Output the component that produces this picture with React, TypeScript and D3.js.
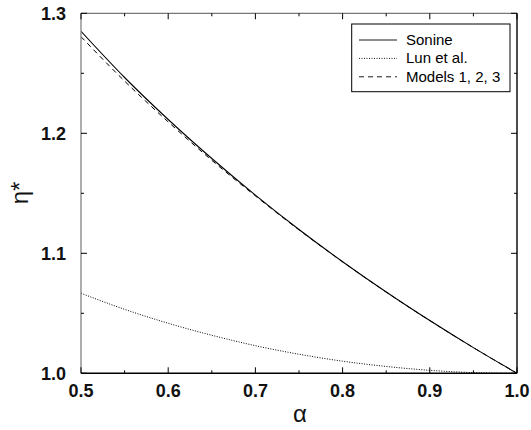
import React from "react";
import * as d3 from "d3";

const alphas = [0.5, 0.55, 0.6, 0.65, 0.7, 0.75, 0.8, 0.85, 0.9, 0.95, 1.0];
const sonine = [1.285, 1.2465, 1.2115, 1.179, 1.1485, 1.1198, 1.093, 1.0678, 1.044, 1.0214, 1.0];
const lun = [1.0667, 1.0533, 1.0417, 1.0317, 1.023, 1.0159, 1.0101, 1.0057, 1.0025, 1.0006, 1.0];
const models = [1.2805, 1.2435, 1.2095, 1.1775, 1.1478, 1.1195, 1.0929, 1.0677, 1.0439, 1.0214, 1.0];

const xMajor = [0.5, 0.6, 0.7, 0.8, 0.9, 1.0];
const xMinor = [0.55, 0.65, 0.75, 0.85, 0.95];
const yMajor = [1.0, 1.1, 1.2, 1.3];
const yMinor = [1.05, 1.15, 1.25];

const legendItems = [
  { label: "Sonine", dash: "none" },
  { label: "Lun et al.", dash: "1,1.5" },
  { label: "Models 1, 2, 3", dash: "5,4" },
];

const L = 81, R = 517, T = 13.3, B = 373.3;

export default function App() {
  const x = d3.scaleLinear().domain([0.5, 1.0]).range([L, R]);
  const y = d3.scaleLinear().domain([1.0, 1.3]).range([B, T]);
  const line = (vals: number[]) =>
    d3
      .line<number>()
      .x((_, i) => x(alphas[i]))
      .y((v) => y(v))
      .curve(d3.curveMonotoneX)(vals) || "";
  const font = "'Liberation Sans', Arial, Helvetica, sans-serif";
  return (
    <svg width={531} height={430} style={{ position: "absolute", left: 0, top: 0 }}>
      <rect x={0} y={0} width={531} height={430} fill="#fff" />
      <defs>
        <clipPath id="plot">
          <rect x={L} y={T} width={R - L} height={B - T} />
        </clipPath>
      </defs>
      <g clipPath="url(#plot)" fill="none">
        <path d={line(lun)} stroke="#000" strokeWidth={1} strokeDasharray="1,1.5" />
        <path d={line(models)} stroke="#000" strokeWidth={1} strokeDasharray="5,4" />
        <path d={line(sonine)} stroke="#000" strokeWidth={1.1} />
      </g>
      {/* frame */}
      <line x1={L} x2={R} y1={T} y2={T} stroke="#777" strokeWidth={1.2} />
      <line x1={L} x2={L} y1={T} y2={B} stroke="#777" strokeWidth={1.2} />
      <line x1={L} x2={R} y1={B} y2={B} stroke="#000" strokeWidth={1.4} />
      <line x1={R} x2={R} y1={T} y2={B} stroke="#000" strokeWidth={1.4} />
      {/* ticks */}
      {xMajor.map((v) => (
        <g key={"xm" + v}>
          <line x1={x(v)} x2={x(v)} y1={B} y2={B - 6} stroke="#000" />
          <line x1={x(v)} x2={x(v)} y1={T} y2={T + 6} stroke="#000" />
          <text x={x(v)} y={396.5} textAnchor="middle" fontFamily={font} fontSize={18} fontWeight="bold" fill="#111">
            {v.toFixed(1)}
          </text>
        </g>
      ))}
      {xMinor.map((v) => (
        <g key={"xn" + v}>
          <line x1={x(v)} x2={x(v)} y1={B} y2={B - 3} stroke="#000" />
          <line x1={x(v)} x2={x(v)} y1={T} y2={T + 3} stroke="#000" />
        </g>
      ))}
      {yMajor.map((v) => (
        <g key={"ym" + v}>
          <line x1={L} x2={L + 6} y1={y(v)} y2={y(v)} stroke="#000" />
          <line x1={R} x2={R - 6} y1={y(v)} y2={y(v)} stroke="#000" />
          <text x={66} y={y(v) + 6.5} textAnchor="end" fontFamily={font} fontSize={18} fontWeight="bold" fill="#111">
            {v.toFixed(1)}
          </text>
        </g>
      ))}
      {yMinor.map((v) => (
        <g key={"yn" + v}>
          <line x1={L} x2={L + 3} y1={y(v)} y2={y(v)} stroke="#000" />
          <line x1={R} x2={R - 3} y1={y(v)} y2={y(v)} stroke="#000" />
        </g>
      ))}
      {/* axis labels */}
      <text x={300} y={422} textAnchor="middle" fontFamily={font} fontSize={24} fill="#111">
        α
      </text>
      <text
        transform="translate(28,193) rotate(-90)"
        textAnchor="middle"
        fontFamily={font}
        fontSize={24}
        fill="#111"
      >
        η*
      </text>
      {/* legend */}
      <rect x={351.7} y={24} width={158.3} height={67.7} fill="#fff" stroke="#000" strokeWidth={1} />
      {legendItems.map((it, i) => {
        const yy = 40 + i * 18.4;
        return (
          <g key={it.label}>
            <line x1={359} x2={397} y1={yy} y2={yy} stroke="#000" strokeWidth={0.9} strokeDasharray={it.dash} />
            <text x={406} y={yy + 5} fontFamily={font} fontSize={15} fill="#000">
              {it.label}
            </text>
          </g>
        );
      })}
    </svg>
  );
}
